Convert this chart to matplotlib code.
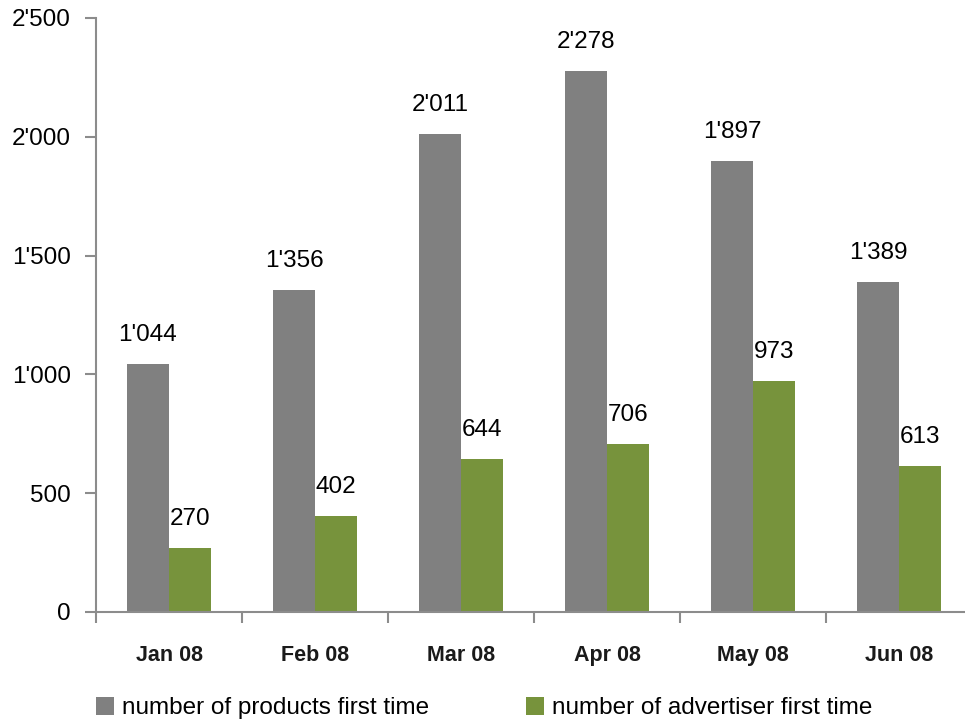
import matplotlib
matplotlib.use("Agg")
import matplotlib.pyplot as plt
import numpy as np

plt.rcParams['font.family'] = ['Liberation Sans', 'DejaVu Sans']

months = ["Jan 08", "Feb 08", "Mar 08", "Apr 08", "May 08", "Jun 08"]
products = [1044, 1356, 2011, 2278, 1897, 1389]
advertisers = [270, 402, 644, 706, 973, 613]
yticks = [0, 500, 1000, 1500, 2000, 2500]

gray = "#808080"
green = "#77933C"
axis_col = "#8C8C8C"

fig = plt.figure(figsize=(9.65, 7.24), dpi=100)
ax = fig.add_axes([96/965, 1-612/724, 876/965, 594/724])

x = np.arange(len(months))
w = 0.288
b1 = ax.bar(x - w/2, products, w, color=gray, label="number of products first time")
b2 = ax.bar(x + w/2, advertisers, w, color=green, label="number of advertiser first time")

def fmt(v):
    return f"{v:,}".replace(",", "'")

for bars, vals in [(b1, products), (b2, advertisers)]:
    for r, v in zip(bars, vals):
        ax.annotate(fmt(v), (r.get_x() + r.get_width()/2, v), xytext=(0, 13),
                    textcoords="offset points", ha="center", va="bottom", fontsize=17.5)

ax.set_xlim(-0.5, len(months) - 0.5)
ax.set_ylim(0, 2500)
ax.set_yticks(yticks)
ax.set_yticklabels([fmt(v) for v in yticks], fontsize=17.5)
ax.set_xticks(np.arange(len(months) + 1) - 0.5)
ax.set_xticklabels([])
ax.set_xticks(x, minor=True)
ax.set_xticklabels(months, minor=True, fontsize=15.5, fontweight="bold", color="#1a1a1a")
ax.tick_params(axis="x", which="minor", length=0, pad=24)
ax.tick_params(axis="x", which="major", length=8, color=axis_col, width=1.5)
ax.tick_params(axis="y", length=8, color=axis_col, width=1.5, pad=10)

for s in ["top", "right"]:
    ax.spines[s].set_visible(False)
for s in ["left", "bottom"]:
    ax.spines[s].set_color(axis_col)
    ax.spines[s].set_linewidth(1.5)

fig.legend(handles=[b1, b2], loc="center left", bbox_to_anchor=(0.077, 0.022), ncol=2,
           frameon=False, fontsize=17.5, handlelength=0.75, handleheight=0.75,
           handletextpad=0.3, columnspacing=4.0)

fig.savefig("out.png", dpi=100)
